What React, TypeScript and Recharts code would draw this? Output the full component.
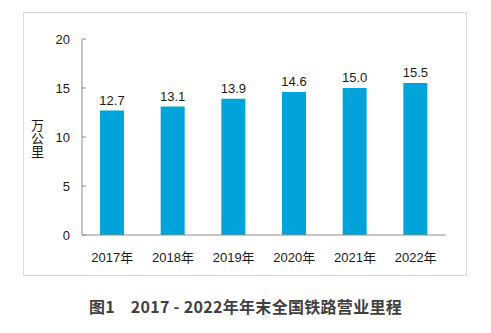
import { BarChart, Bar, XAxis, YAxis, LabelList } from "recharts";

const years = ["2017年", "2018年", "2019年", "2020年", "2021年", "2022年"];
const mileage = [12.7, 13.1, 13.9, 14.6, 15.0, 15.5];
const yTicks = [0, 5, 10, 15, 20];

const data = years.map((year, i) => ({ year, value: mileage[i] }));

const FONT = "'Liberation Sans', Arial, 'Noto Sans CJK SC', sans-serif";

const App = () => {
  return (
    <div
      style={{
        position: "absolute",
        left: 0,
        top: 0,
        width: 491,
        height: 333,
        background: "#fff",
        fontFamily: FONT,
      }}
    >
      <div
        style={{
          position: "absolute",
          left: 23,
          top: 12,
          width: 442,
          height: 262,
          border: "1px solid #d9d9d9",
        }}
      >
        <BarChart
          width={442}
          height={262}
          data={data}
          margin={{ top: 26, right: 20, bottom: 0, left: 0 }}
        >
          <XAxis
            dataKey="year"
            height={40}
            tickLine={false}
            axisLine={{ stroke: "#8c8c8c" }}
            tickMargin={12}
            tick={{ fontSize: 13, fill: "#1a1a1a", fontFamily: FONT }}
            interval={0}
          />
          <YAxis
            width={58}
            domain={[0, 20]}
            ticks={yTicks}
            axisLine={{ stroke: "#8c8c8c" }}
            tickLine={{ stroke: "#8c8c8c" }}
            tickSize={-4}
            tickMargin={16}
            tick={{ fontSize: 13, fill: "#1a1a1a", fontFamily: FONT }}
          />
          <Bar dataKey="value" fill="#00a3da" barSize={24} isAnimationActive={false}>
            <LabelList
              dataKey="value"
              position="top"
              offset={6}
              formatter={(v: number) => v.toFixed(1)}
              style={{ fontSize: 13, fill: "#1a1a1a", fontFamily: FONT }}
            />
          </Bar>
        </BarChart>
        <div
          style={{
            position: "absolute",
            left: 6,
            top: 106,
            writingMode: "vertical-rl",
            fontSize: 13,
            lineHeight: "14px",
            color: "#1a1a1a",
            fontFamily: "'Noto Sans CJK SC', sans-serif",
          }}
        >
          万公里
        </div>
      </div>
      <div
        style={{
          position: "absolute",
          left: 0,
          top: 294,
          width: 491,
          textAlign: "center",
          fontSize: 16,
          fontWeight: "bold",
          color: "#3f3f3f",
          whiteSpace: "pre",
          letterSpacing: 0.3,
          fontFamily: "'Noto Sans CJK SC', 'Open Sans', sans-serif",
        }}
      >
        {"图1    2017 - 2022年年末全国铁路营业里程"}
      </div>
    </div>
  );
};

export default App;
